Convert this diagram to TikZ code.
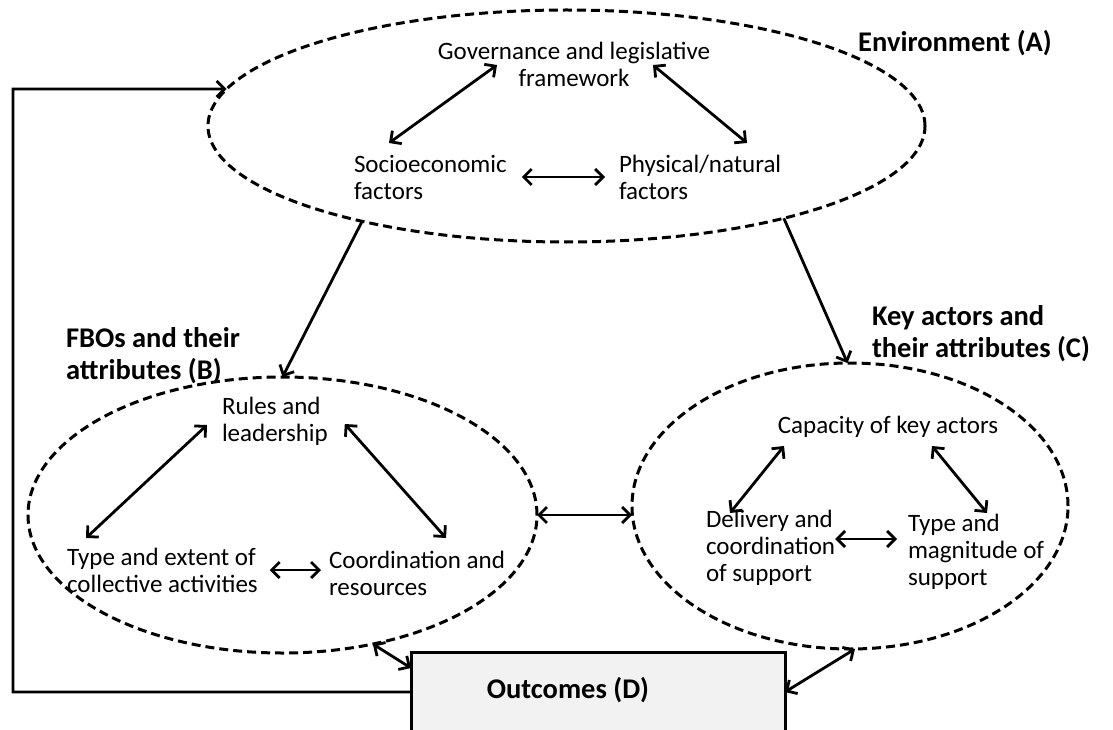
\documentclass[tikz,border=0pt]{standalone}
\usepackage{fontspec}
\setmainfont{Carlito}
\usetikzlibrary{arrows.meta,shapes.geometric,calc,intersections}
\begin{document}
\begin{tikzpicture}[x=1pt,y=-1pt,
  zone/.style={ellipse, draw, dash pattern=on 9pt off 5pt, line width=3pt,
               inner sep=0pt, outer sep=0pt},
  txt/.style={inner sep=0pt, outer sep=0pt, align=left,
              font=\fontsize{25}{27}\selectfont},
  lbl/.style={inner sep=0pt, outer sep=0pt, align=left,
              font=\fontsize{28.5}{32}\selectfont\bfseries},
  barb/.tip={Straight Barb[length=8pt,width=16pt]},
  link/.style={line width=2.8pt, -barb},
  both/.style={line width=2.8pt, barb-barb},
]
\useasboundingbox (0,0) rectangle (1113,730);
\clip (0,0) rectangle (1113,730);

% the three domains
\node[zone, minimum width=717pt, minimum height=232pt] (A) at (566.5,126) {};
\node[zone, minimum width=509pt, minimum height=276pt] (B) at (282.5,515) {};
\node[zone, minimum width=436pt, minimum height=286pt] (C) at (850,506) {};
\path[name path=Aring] (A.center) ellipse [x radius=358.5pt, y radius=116pt];

% outcomes box (runs off the lower edge)
\node[draw, line width=3pt, fill=gray!10, minimum width=374pt, minimum height=80pt,
      inner sep=0pt, outer sep=0pt] (out) at (598,692) {};
\node[lbl] (outlab) at (568,690) {Outcomes (D)};

% domain labels
\node[lbl] (envlab) at (955,43) {Environment (A)};
\node[lbl, anchor=west] (fbolab) at (66,356) {FBOs and their\\attributes (B)};
\node[lbl, anchor=west] (keylab) at (872,334) {Key actors and\\their attributes (C)};

% environment (A)
\node[txt, align=center] (gov) at (574,64) {Governance and legislative\\framework};
\node[txt, anchor=west] (socio) at (354,177) {Socioeconomic\\factors};
\node[txt, anchor=west] (phys) at (619,177) {Physical/natural\\factors};
\draw[both] ($(gov.center)+(-77,1)$) -- ($(socio.west)+(35,-34)$);
\draw[both] ($(gov.center)+(79,1)$) -- ($(phys.west)+(128,-34)$);
\draw[both] ($(socio.east)+(15,0)$) -- ($(phys.west)+(-14,0)$);

% FBOs (B)
\node[txt, anchor=west] (rules) at (222,421) {Rules and\\leadership};
\node[txt, anchor=west] (typeext) at (67,570) {Type and extent of\\collective activities};
\node[txt, anchor=west] (coord) at (329,573) {Coordination and\\resources};
\draw[both] ($(rules.west)+(-15,4)$) -- ($(typeext.west)+(19,-32)$);
\draw[both] ($(rules.east)+(17,3)$) -- ($(coord.west)+(117,-35)$);
\draw[both] ($(typeext.east)+(12,0)$) -- ($(coord.west)+(-8,-3)$);

% key actors (C)
\node[txt] (capacity) at (888,427) {Capacity of key actors};
\node[txt, anchor=west] (delivery) at (706,548) {Delivery and\\coordination\\of support};
\node[txt, anchor=west] (typemag) at (908,552) {Type and\\magnitude of\\support};
\draw[both] ($(capacity.center)+(-104,19)$) -- ($(delivery.west)+(24,-35)$);
\draw[both] ($(capacity.center)+(44,19)$) -- ($(typemag.west)+(79,-39)$);
\draw[both] ($(delivery.east)+(0,-9)$) -- ($(typemag.west)+(-11,-13)$);

% links between domains
\draw[link] (A.205.5) -- (B.90);
\draw[link] (A.337) -- (C.91);
\draw[both] (B.east) -- (B.east -| C.west);
\draw[both] (B.305.9) -- ($(out.west)+(0,-24)$);
\draw[both] (out.east) -- (C.272);

% feedback from outcomes to the environment
\coordinate (corner) at (13,89);
\path[name path=feedline] (corner) -- ++(300,0);
\path[name intersections={of=Aring and feedline, by={feedend}}];
\draw[link] (out.west) -| (corner) -- (feedend);
\end{tikzpicture}
\end{document}
